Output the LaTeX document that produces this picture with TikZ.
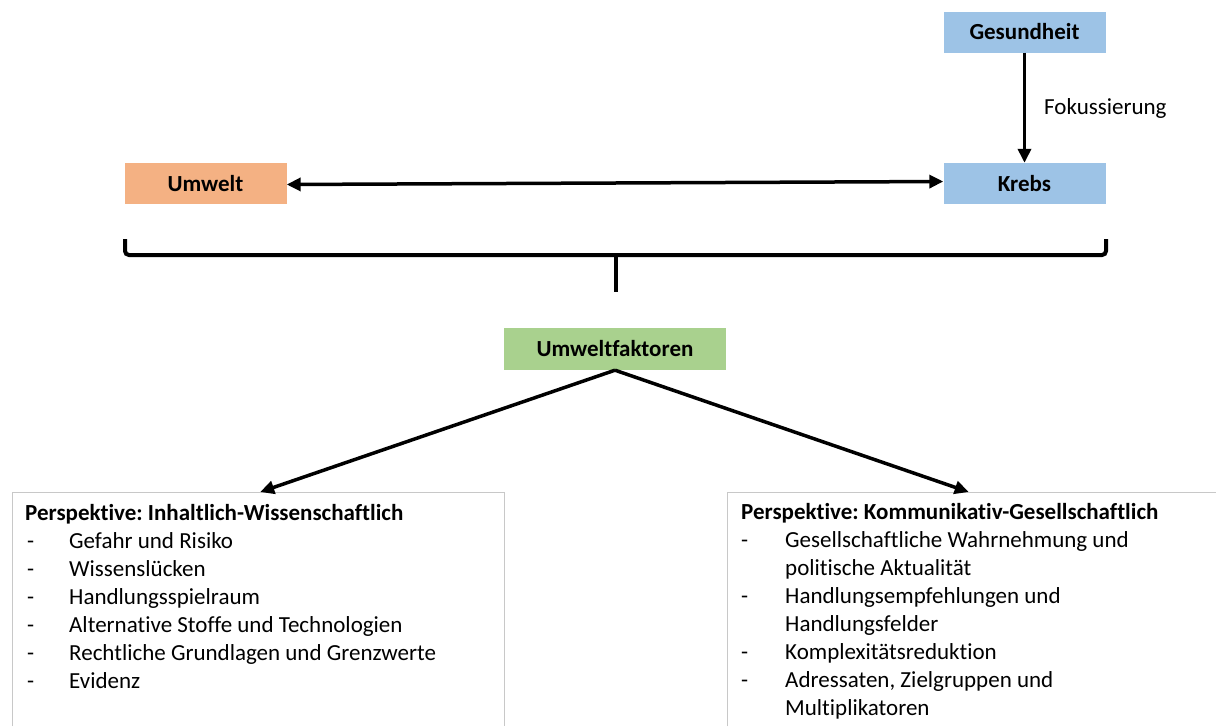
\documentclass[tikz,border=0pt]{standalone}
\usepackage{fontspec}
\setmainfont[Ligatures=NoCommon]{Carlito}
\usetikzlibrary{arrows.meta}
\definecolor{cblue}{HTML}{9DC3E6}
\definecolor{corange}{HTML}{F4B183}
\definecolor{cgreen}{HTML}{A9D18E}
\definecolor{cgray}{HTML}{C8C8C8}
\frenchspacing
\begin{document}
\begin{tikzpicture}[x=1pt,y=-1pt,
  box/.style={minimum width=162pt, minimum height=41pt, inner sep=0pt, font=\fontsize{23}{28}\selectfont\bfseries},
  conn/.style={line width=3.5pt, -{Triangle[length=14pt,width=13pt]}},
  dconn/.style={line width=3.5pt, {Triangle[length=14pt,width=13pt]}-{Triangle[length=14pt,width=13pt]}},
  brace/.style={line width=4pt, rounded corners=4pt},
  frame/.style={draw=none, inner sep=0pt, anchor=north west},
  framebox/.style={cgray, line width=1pt},
  item/.style={inner sep=0pt, anchor=base west, font=\fontsize{23}{28}\selectfont},
  head/.style={inner sep=0pt, anchor=base west, font=\fontsize{23}{28}\selectfont\bfseries},
  lbl/.style={inner sep=0pt, anchor=west, font=\fontsize{23}{28}\selectfont}]
\useasboundingbox (0,0) rectangle (1216,726);
\fill[white] (0,0) rectangle (1216,726);
% top nodes
\node[box, fill=cblue] (ges) at (1024.5,32) {Gesundheit};
\node[box, fill=cblue] (krebs) at (1024.5,183.5) {Krebs};
\node[box, fill=corange] (umwelt) at (205.5,183.5) {Umwelt};
\node[box, fill=cgreen, minimum width=222pt, minimum height=42pt] (uf) at (615,349) {Umweltfaktoren};
% connectors
\draw[conn] (ges.south) -- (krebs.north);
\node[lbl] (fok) at (1044,108) {Fokussierung};
\draw[dconn] ([yshift=-1pt]umwelt.east) -- ([yshift=2pt]krebs.west);
% brace
\coordinate (bl) at (125,239);
\coordinate (br) at (1106,239);
\coordinate (bc) at (616,255);
\coordinate (bs) at (616,292);
\draw[brace] (bl) |- (bc) -| (br);
\draw[line width=4pt] (bc) -- (bs);
\fill (608,253) .. controls (614,253) and (616,256) .. (616,262) .. controls (616,256) and (618,253) .. (624,253) -- cycle;
% lower boxes
\node[frame, minimum width=492pt, minimum height=234pt] (lbox) at (12,492) {};
\node[frame, minimum width=489pt, minimum height=234pt] (rbox) at (727,492) {};
\draw[framebox] (lbox.south west) -- (lbox.north west) -- (lbox.north east) -- (lbox.south east);
\draw[framebox] (rbox.south west) -- (rbox.north west) -- (rbox.north east);
\draw[conn] (uf.south) -- ([xshift=2pt]lbox.north);
\draw[conn] (uf.south) -- ([xshift=-3pt]rbox.north);
% left text
\node[head] (lhead) at (25,520) {Perspektive: Inhaltlich-Wissenschaftlich};
\foreach \t [count=\i from 0] in {Gefahr und Risiko, Wissenslücken, Handlungsspielraum, Alternative Stoffe und Technologien, Rechtliche Grundlagen und Grenzwerte, Evidenz}
  \node[item] (li\i) at (27,{548+28*\i}) {\makebox[42pt][l]{-}\t};
% right text
\node[head] (rhead) at (741,519) {Perspektive: Kommunikativ-Gesellschaftlich};
\foreach \d/\t [count=\i from 0] in {-/Gesellschaftliche Wahrnehmung und, /politische Aktualität, -/Handlungsempfehlungen und, /Handlungsfelder, -/Komplexitätsreduktion, -/{Adressaten, Zielgruppen und}, /Multiplikatoren}
  \node[item] (ri\i) at (741,{547+28*\i}) {\makebox[44pt][l]{\d}\t};
\end{tikzpicture}
\end{document}
